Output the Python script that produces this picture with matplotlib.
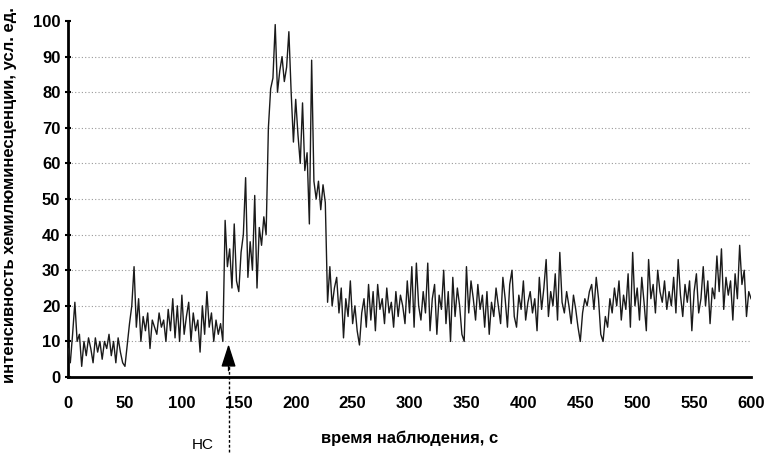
import matplotlib.pyplot as plt
import numpy as np

# time axis, one reading every 2 s
t = np.arange(0, 601, 2)

# chemiluminescence intensity, arb. units
intensity = [
    8, 4, 12, 21, 10, 12, 3, 10, 6, 11,
    8, 4, 11, 7, 10, 5, 10, 8, 12, 6,
    10, 4, 11, 7, 4, 3, 9, 15, 20, 31,
    14, 22, 10, 17, 13, 18, 8, 16, 14, 12,
    18, 14, 16, 10, 19, 13, 22, 11, 20, 10,
    23, 12, 17, 21, 10, 18, 13, 16, 7, 20,
    12, 24, 14, 18, 10, 16, 12, 15, 10, 44,
    31, 36, 25, 43, 27, 24, 35, 40, 56, 28,
    38, 30, 51, 25, 42, 37, 45, 40, 70, 81,
    84, 99, 80, 86, 90, 83, 87, 97, 80, 66,
    78, 68, 60, 77, 58, 63, 43, 89, 55, 50,
    55, 47, 54, 49, 21, 31, 20, 25, 28, 18,
    25, 11, 22, 17, 27, 15, 20, 13, 9, 18,
    22, 14, 26, 16, 24, 13, 26, 19, 22, 15,
    25, 18, 21, 14, 24, 17, 23, 20, 15, 27,
    18, 31, 14, 32, 20, 16, 24, 18, 32, 13,
    22, 26, 12, 23, 19, 30, 15, 24, 10, 28,
    17, 25, 20, 12, 10, 31, 18, 27, 22, 16,
    26, 19, 23, 14, 24, 12, 21, 17, 25, 20,
    15, 28, 22, 14, 26, 30, 17, 14, 23, 19,
    27, 16, 21, 24, 18, 22, 13, 28, 19, 25,
    33, 17, 24, 20, 29, 16, 35, 21, 18, 24,
    20, 15, 23, 19, 14, 10, 18, 22, 20, 24,
    26, 19, 28, 22, 12, 10, 17, 14, 22, 18,
    25, 20, 27, 16, 23, 19, 29, 14, 35, 20,
    25, 16, 28, 21, 13, 33, 22, 26, 18, 30,
    24, 21, 27, 19, 24, 20, 28, 18, 33, 23,
    17, 26, 21, 27, 13, 24, 29, 18, 22, 31,
    20, 27, 15, 25, 22, 34, 24, 36, 19, 28,
    23, 27, 16, 29, 22, 37, 26, 30, 17, 24,
    22,
]

x_ticks = list(range(0, 601, 50))
y_ticks = list(range(0, 101, 10))
grid_levels = list(range(10, 100, 10))
ns_time = 141

font = ['Liberation Sans Narrow', 'Liberation Sans', 'DejaVu Sans']
plt.rcParams['font.family'] = font

fig = plt.figure(figsize=(7.67, 4.57), dpi=100)
ax = fig.add_axes([0.0887, 0.175, 0.8905, 0.779])

for lev in grid_levels:
    ax.axhline(lev, color='#999999', lw=0.8, ls=(0, (1, 2)), zorder=1)

ax.plot(t, intensity, color='#1a1a1a', lw=1.0, zorder=3)

ax.set_xlim(0, 600)
ax.set_ylim(0, 100)
ax.set_xticks(x_ticks)
ax.set_yticks(y_ticks)
ax.tick_params(axis='x', length=0, pad=14, labelsize=12)
ax.tick_params(axis='y', length=5, width=1.5, direction='inout', pad=3, labelsize=12)
for lab in ax.get_xticklabels() + ax.get_yticklabels():
    lab.set_fontweight('bold')

for s in ['top', 'right']:
    ax.spines[s].set_visible(False)
for s in ['left', 'bottom']:
    ax.spines[s].set_linewidth(2)

ax.set_xlabel('время наблюдения, с', fontsize=12, fontweight='bold', labelpad=14)
ax.set_ylabel('интенсивность хемилюминесценции, усл. ед.', fontsize=12,
              fontweight='bold', labelpad=6)
ax.yaxis.set_label_coords(-0.075, 0.51)

# НС marker: dashed line from below the axis, arrow head pointing up
ax.plot([ns_time, ns_time], [-21, 3], color='black', lw=1, ls=(0, (2, 1.5)),
        clip_on=False, zorder=4)
ax.annotate('', xy=(ns_time, 10), xytext=(ns_time, 1),
            arrowprops=dict(arrowstyle='-|>,head_width=0.45,head_length=1.4',
                            color='black', lw=1),
            annotation_clip=False, zorder=5)
ax.text(118, -19, 'НС', fontsize=11, ha='center', va='center')

fig.savefig('out.png', dpi=100)
